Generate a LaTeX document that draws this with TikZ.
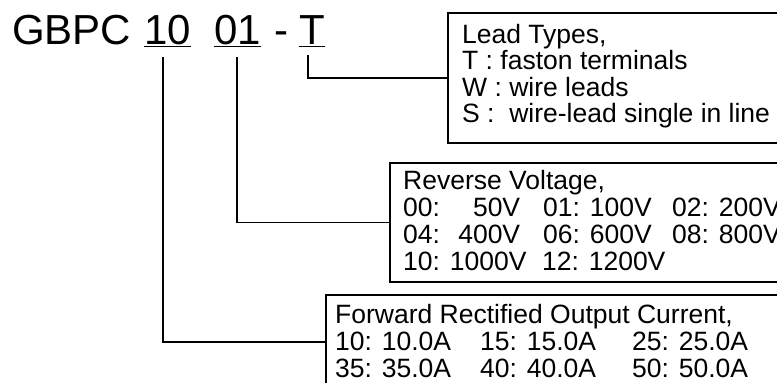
\documentclass[tikz,border=0pt]{standalone}
\usepackage{fontspec}
\setmainfont{Liberation Sans}
\usetikzlibrary{calc}
\tikzset{
  boxframe/.style={draw=black, line width=1.8pt, rectangle, inner sep=0pt},
  linktxt/.style={anchor=base west, inner sep=0pt, font=\fontsize{26.5}{27}\selectfont},
  titletxt/.style={anchor=base west, inner sep=0pt, font=\fontsize{42}{44}\selectfont},
  uline/.style={line width=1.4pt},
  wire/.style={line width=1.6pt}
}
\begin{document}
\begin{tikzpicture}[x=1pt,y=-1pt]
\useasboundingbox (0,0) rectangle (777,383);
\clip (0,0) rectangle (777,383);
% title
\node[titletxt] (gbpc) at (12,44) {GBPC};
\node[titletxt] (n10) at (144,44) {10};
\node[titletxt] (n01) at (214,44) {01};
\node[titletxt] (dash) at (274,44) {-};
\node[titletxt] (nT) at (299,44) {T};
\draw[uline] ($(n10.base west)+(0,2.5)$) -- ($(n10.base east)+(0,2.5)$);
\draw[uline] ($(n01.base west)+(0,2.5)$) -- ($(n01.base east)+(0,2.5)$);
\draw[uline] ($(nT.base west)+(0,2.5)$) -- ($(nT.base east)+(0,2.5)$);
% boxes
\node[boxframe, minimum width=342pt, minimum height=130pt] (lead) at (619,78) {};
\node[boxframe, minimum width=400pt, minimum height=119pt] (rev) at (590,222.5) {};
\node[boxframe, minimum width=464pt, minimum height=94pt] (fwd) at (558,342) {};
% connectors
\coordinate (cT) at (308,55);
\coordinate (c01) at (237,57);
\coordinate (c10) at (163,57);
\draw[wire] (cT) |- (lead.west);
\draw[wire] (c01) |- (rev.west);
\draw[wire] (c10) |- (fwd.west);
% lead types text
\node[linktxt] (l1) at (462,43) {Lead Types,};
\node[linktxt] (l2) at (462,69.5) {T : faston terminals};
\node[linktxt] (l3) at (462,96) {W : wire leads};
\node[linktxt] (l4) at (462,122.5) {S :\ \ wire-lead single in line};
% reverse voltage text
\node[linktxt] (r1) at (403,189) {Reverse Voltage,};
\node[linktxt] (r2) at (403,216) {\makebox[140pt][l]{\makebox[117pt][l]{00:\hfill 50V}}\makebox[129pt][l]{01: 100V}02: 200V};
\node[linktxt] (r3) at (403,243) {\makebox[140pt][l]{\makebox[117pt][l]{04:\hfill 400V}}\makebox[129pt][l]{06: 600V}08: 800V};
\node[linktxt] (r4) at (403,270) {\makebox[139pt][l]{10: 1000V}12: 1200V};
% forward current text
\node[linktxt] (f1) at (335,323) {Forward Rectified Output Current,};
\node[linktxt] (f2) at (335,350) {\makebox[145pt][l]{10: 10.0A}\makebox[152pt][l]{15: 15.0A}25: 25.0A};
\node[linktxt] (f3) at (335,377) {\makebox[145pt][l]{35: 35.0A}\makebox[152pt][l]{40: 40.0A}50: 50.0A};
\end{tikzpicture}
\end{document}
